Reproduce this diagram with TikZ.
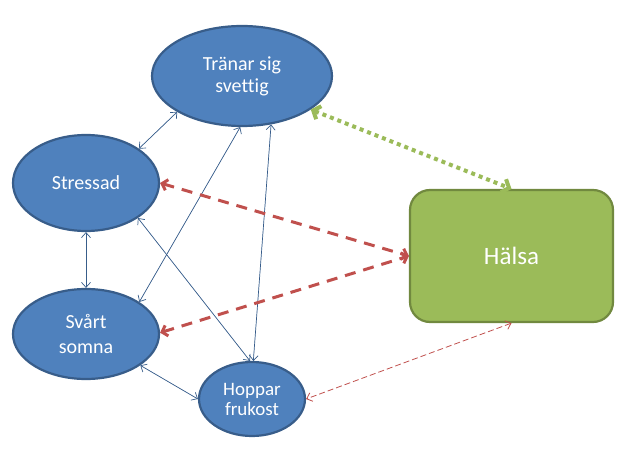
\documentclass[tikz,border=0pt]{standalone}
\usepackage{fontspec}
\setmainfont[Ligatures=CommonOff]{Carlito}
\usepackage{xcolor}
\usetikzlibrary{arrows.meta,shapes.geometric}
\definecolor{bubble}{HTML}{4F81BD}
\definecolor{bubbleedge}{HTML}{385D8A}
\definecolor{grass}{HTML}{9BBB59}
\definecolor{grassedge}{HTML}{71893F}
\definecolor{brick}{HTML}{C0504D}
\begin{document}
\begin{tikzpicture}[x=1pt,y=-1pt,
  bubble/.style={ellipse,fill=bubble,draw=bubbleedge,line width=2.2pt,text=white,inner sep=0pt,align=center},
  link/.style={bubble,line width=0.7pt,{Straight Barb[length=5pt,width=9pt]}-{Straight Barb[length=5pt,width=9pt]}},
  strong/.style={brick,line width=3pt,dash pattern=on 11pt off 8pt,{Straight Barb[length=5pt,width=11pt]}-{Straight Barb[length=5pt,width=11pt]}},
  weak/.style={brick,line width=0.8pt,dash pattern=on 6pt off 3pt,{Straight Barb[length=5pt,width=9pt]}-{Straight Barb[length=5pt,width=9pt]}}]
  \useasboundingbox (0,0) rectangle (629,457);
  \node[bubble,minimum width=180pt,minimum height=100pt,font=\fontsize{20}{22}\selectfont] (tranar) at (242,76) {Tränar sig\\svettig};
  \node[bubble,minimum width=146pt,minimum height=96pt,font=\fontsize{20}{24}\selectfont] (stressad) at (86,183) {Stressad};
  \node[bubble,minimum width=146pt,minimum height=90pt,font=\fontsize{20}{25}\selectfont] (svart) at (86,334) {Svårt\\somna};
  \node[bubble,minimum width=106pt,minimum height=74pt,font=\fontsize{19}{20}\selectfont] (hoppar) at (252,399) {Hoppar\\frukost};
  \node[rectangle,rounded corners=20pt,fill=grass,draw=grassedge,line width=2.2pt,text=white,
        minimum width=203pt,minimum height=132pt,font=\fontsize{25}{28}\selectfont] (halsa) at (511.5,256) {Hälsa};
  % thin blue links
  \draw[link] (tranar.209) -- (stressad.33);
  \draw[link] (tranar.268) -- (svart.31);
  \draw[link] (tranar.301) -- (hoppar.88);
  \draw[link] (stressad.326) -- (hoppar.93);
  \draw[link] (stressad.south) -- (svart.north);
  \draw[link] (svart.330) -- (hoppar.west);
  % links to halsa
  \draw[strong] (stressad.east) -- (halsa.west);
  \draw[strong] (svart.1) -- (halsa.west);
  \draw[grass,line width=4pt,dash pattern=on 4pt off 4pt,{Straight Barb[length=6pt,width=14pt]}-{Straight Barb[length=6pt,width=14pt]}] (tranar.334) -- (halsa.north);
  \draw[weak] (halsa.south) -- (hoppar.east);
\end{tikzpicture}
\end{document}
